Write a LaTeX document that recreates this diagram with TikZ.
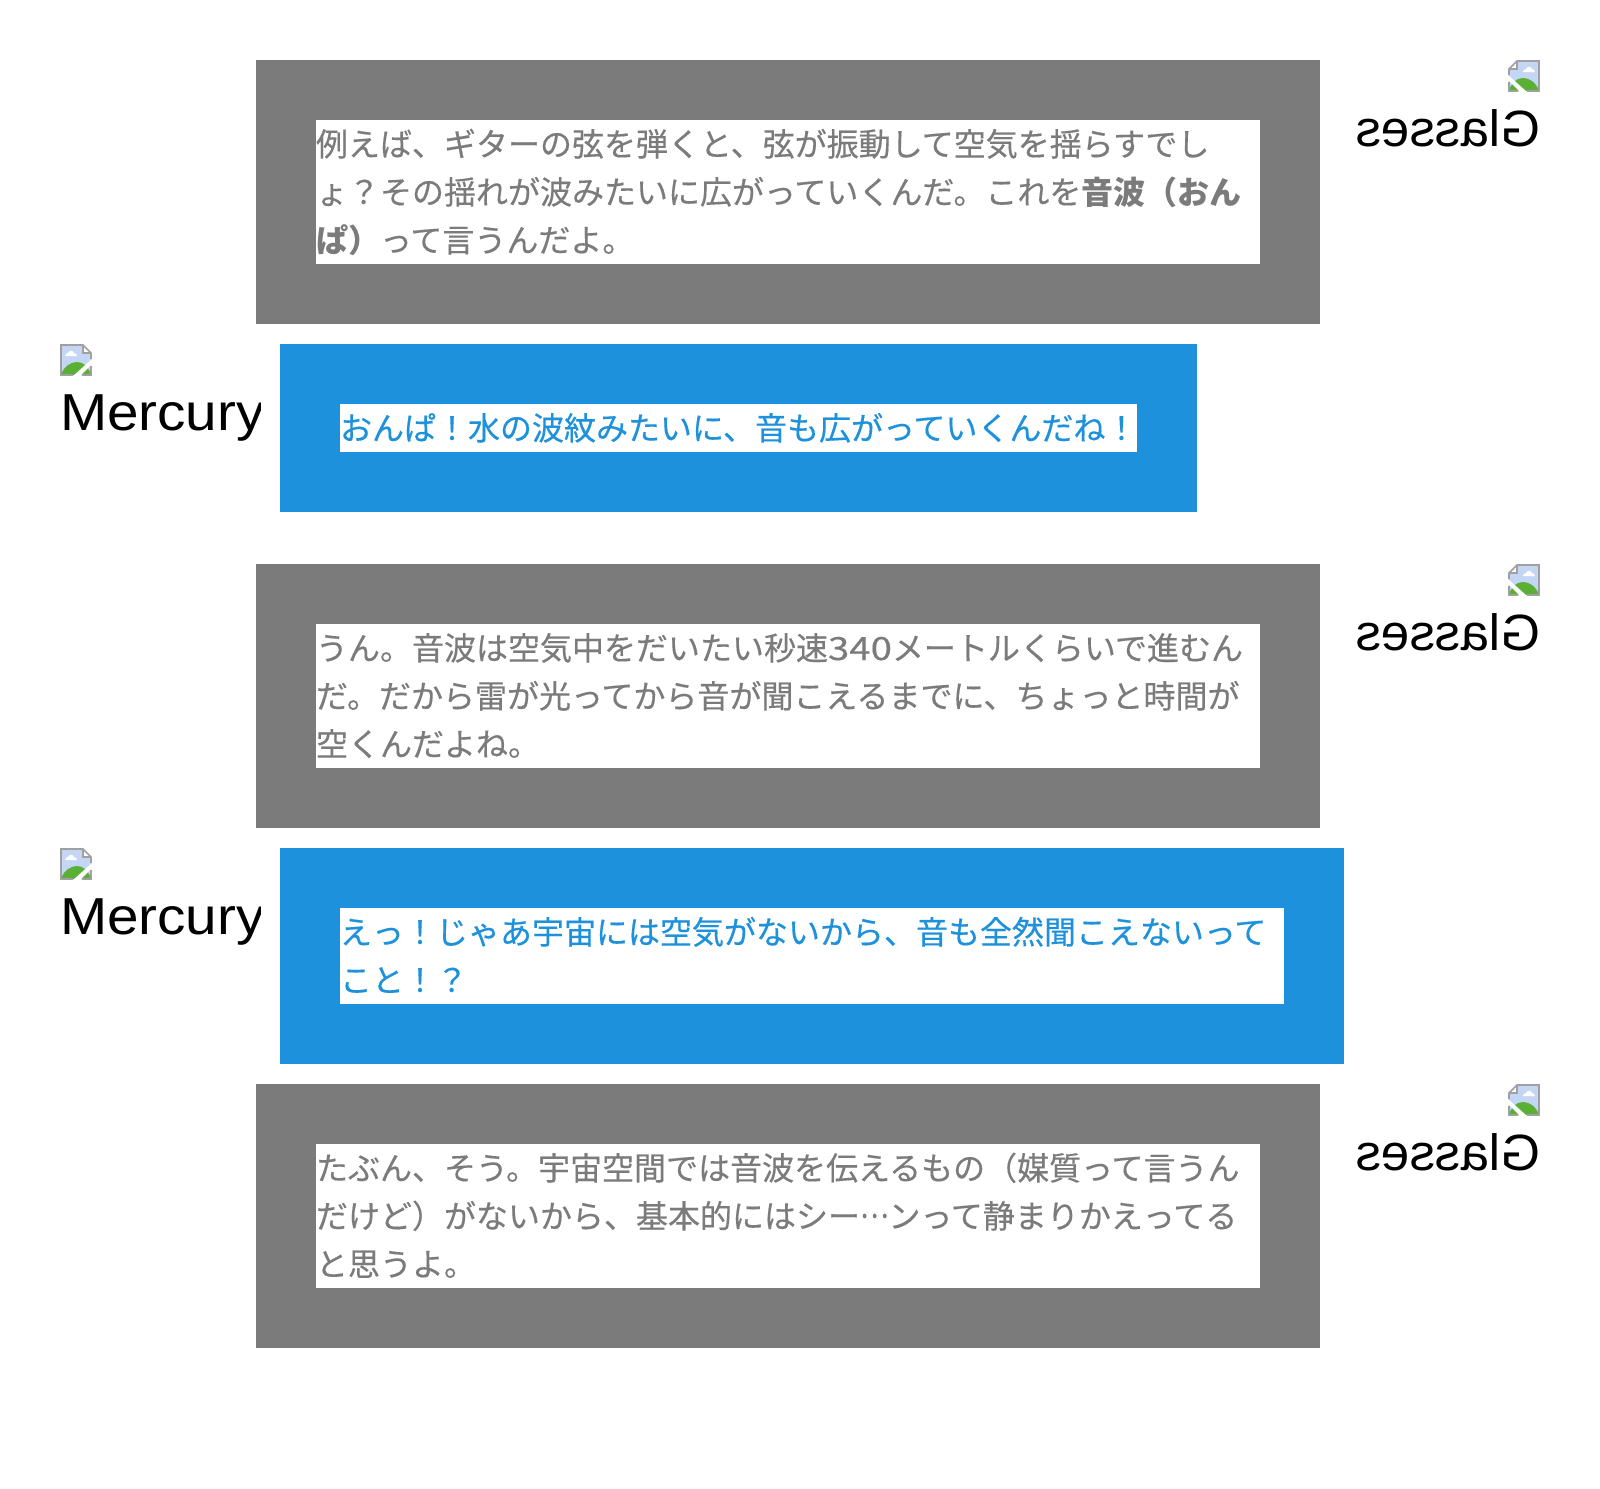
\documentclass[tikz,border=0pt]{standalone}
\usepackage{graphicx}
\usepackage{fontspec}
\setmainfont{Liberation Sans}
\newfontfamily\jpfont{Noto Sans CJK JP}[UprightFeatures={FakeBold=0.3}]
\usetikzlibrary{positioning}

\definecolor{glassgray}{RGB}{123,123,123}
\definecolor{mercblue}{RGB}{29,145,220}
\definecolor{iconedge}{RGB}{160,160,160}
\definecolor{iconsky}{RGB}{197,214,245}
\definecolor{iconhill}{RGB}{90,176,52}

\tikzset{
  x=1pt,y=-1pt,
  outerbox/.style={anchor=north west,inner sep=0pt,outer sep=0pt,minimum height=#1},
  glassbox/.style={outerbox=264pt,fill=glassgray,minimum width=1064pt},
  mercbox/.style={outerbox=#1,fill=mercblue},
  speech/.style={fill=white,inner sep=0pt,outer sep=0pt,align=left,
    font=\jpfont\fontsize{32pt}{48pt}\selectfont,text height=36pt},
  glasstext/.style={speech,text=glassgray,text width=944pt,text depth=108pt},
  merctext/.style={speech,text=mercblue},
  who/.style={inner sep=0pt,outer sep=0pt,anchor=base west},
  mercuryname/.style={who,xscale=1.09,transform shape,font=\fontsize{52pt}{52pt}\selectfont},
  glassesname/.style={who,xscale=-1,transform shape,font=\fontsize{51pt}{52pt}\selectfont},
  pics/brokenimg/.style={code={
    \fill[iconsky] (1,1) -- (23,1) -- (31,9) -- (31,31) -- (1,31) -- cycle;
    \fill[iconhill] (1,31) .. controls (4,22) and (11,18) .. (17,18) .. controls (24,18) and (28,23) .. (31,30) -- (31,31) -- cycle;
    \fill[white] (5,12) .. controls (5,10) and (7,9) .. (8,9) .. controls (9,6) and (13,6) .. (14,9) .. controls (16,9) and (17,11) .. (17,12) -- cycle;
    \fill[white] (13,32) -- (32,15) -- (32,20) -- (20,32) -- cycle;
    \fill[white] (23,1) -- (23,9) -- (31,9) -- cycle;
    \draw[iconedge,line width=1.6pt] (13,31) -- (1,31) -- (1,1) -- (23,1) -- (31,9) -- (31,15);
    \draw[iconedge,line width=1.6pt] (22,31) -- (31,31) -- (31,22);
    \draw[iconedge,line width=1.2pt] (23,1) -- (23,9) -- (31,9);
  }}
}

\begin{document}
\begin{tikzpicture}
  \useasboundingbox (0,0) rectangle (1600,1488);

  % speech boxes
  \node(glassA) [glassbox] at (256,60) {};
  \node(mercA)  [mercbox=168pt,minimum width=917pt,below right=20pt and 24pt of glassA.south west] {};
  \node(glassB) [glassbox,below right=52pt and -24pt of mercA.south west] {};
  \node(mercB)  [mercbox=216pt,minimum width=1064pt,below right=20pt and 24pt of glassB.south west] {};
  \node(glassC) [glassbox,below right=20pt and -24pt of mercB.south west] {};

  % texts
  \node(textA) [glasstext] at (glassA.center) {例えば、ギターの弦を弾くと、弦が振動して空気を揺らすでし\\ょ？その揺れが波みたいに広がっていくんだ。これを\textbf{音波（おん}\\\textbf{ぱ）}って言うんだよ。};
  \node(textB) [merctext,text width=797pt,text depth=12pt] at (mercA.center) {おんぱ！水の波紋みたいに、音も広がっていくんだね！};
  \node(textC) [glasstext] at (glassB.center) {うん。音波は空気中をだいたい秒速\scalebox{1.2}[1]{340}メートルくらいで進むん\\だ。だから雷が光ってから音が聞こえるまでに、ちょっと時間が\\空くんだよね。};
  \node(textD) [merctext,text width=944pt,text depth=60pt] at (mercB.center) {えっ！じゃあ宇宙には空気がないから、音も全然聞こえないって\\こと！？};
  \node(textE) [glasstext] at (glassC.center) {たぶん、そう。宇宙空間では音波を伝えるもの（媒質って言うん\\だけど）がないから、基本的にはシー\raisebox{.32em}{\scalebox{.84}[1]{…}}ンって静まりかえってる\\と思うよ。};

  % icons and names
  \foreach \y [count=\i] in {60,564,1084} {
    \pic[xscale=-1] at (1540,\y) {brokenimg};
    \node(glasses\i) [glassesname] at (1540,\y+86) {Glasses};
  }
  \foreach \y [count=\i] in {344,848} {
    \pic at (60,\y) {brokenimg};
    \begin{scope}
      \clip (60,\y) rectangle (260,\y+120);
      \node(mercury\i) [mercuryname] at (60,\y+86) {Mercury};
    \end{scope}
  }
\end{tikzpicture}
\end{document}
